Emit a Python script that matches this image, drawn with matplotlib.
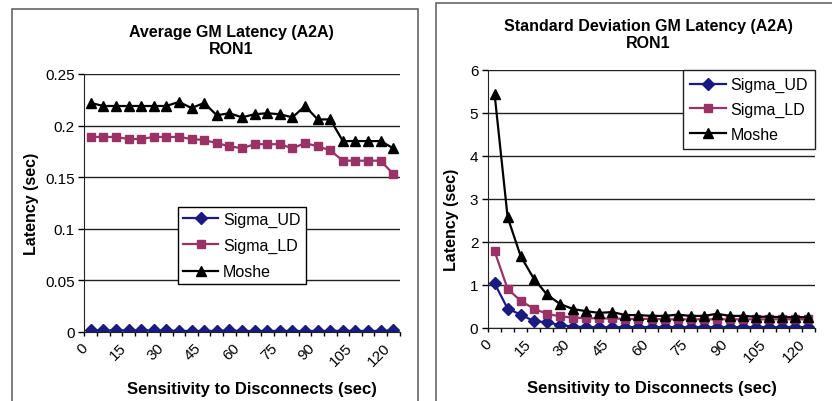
import matplotlib
matplotlib.use("Agg")
import matplotlib.pyplot as plt
from matplotlib.patches import Rectangle
import numpy as np

plt.rcParams['font.family'] = ['Liberation Sans', 'DejaVu Sans']

# x categories (sec)
sensitivity = list(range(0, 125, 5))
xtick_labels = [str(v) for v in sensitivity[::3]]

# average GM latency (sec)
avg_sigma_ud = [0.0015, 0.0015, 0.0015, 0.0015, 0.0015, 0.0015, 0.0015, 0.001, 0.001, 0.001,
                0.001, 0.0015, 0.001, 0.001, 0.001, 0.001, 0.001, 0.001, 0.001, 0.001,
                0.0012, 0.001, 0.001, 0.001, 0.0015]
avg_sigma_ld = [0.189, 0.189, 0.189, 0.187, 0.187, 0.189, 0.189, 0.189, 0.187, 0.186,
                0.183, 0.180, 0.178, 0.182, 0.182, 0.182, 0.178, 0.183, 0.180, 0.176,
                0.166, 0.166, 0.166, 0.166, 0.153]
avg_moshe = [0.222, 0.219, 0.219, 0.219, 0.219, 0.219, 0.219, 0.223, 0.217, 0.222,
             0.210, 0.212, 0.208, 0.211, 0.212, 0.211, 0.208, 0.219, 0.206, 0.206,
             0.185, 0.185, 0.185, 0.185, 0.178]

# standard deviation of GM latency (sec)
sd_sigma_ud = [1.03, 0.44, 0.30, 0.15, 0.12, 0.06, 0.02, 0.01, 0.01, 0.01,
               0.01, 0.01, 0.01, 0.01, 0.01, 0.01, 0.01, 0.01, 0.01, 0.01,
               0.01, 0.01, 0.01, 0.01, 0.01]
sd_sigma_ld = [1.78, 0.90, 0.62, 0.44, 0.32, 0.26, 0.23, 0.22, 0.21, 0.21,
               0.20, 0.20, 0.20, 0.19, 0.19, 0.19, 0.19, 0.19, 0.19, 0.19,
               0.19, 0.19, 0.19, 0.19, 0.19]
sd_moshe = [5.45, 2.57, 1.66, 1.14, 0.77, 0.55, 0.43, 0.38, 0.34, 0.36,
            0.29, 0.29, 0.27, 0.27, 0.30, 0.27, 0.27, 0.32, 0.27, 0.27,
            0.25, 0.25, 0.24, 0.24, 0.24]

W, H = 832, 402
fig = plt.figure(figsize=(W / 100, H / 100), dpi=100)


def px_box(x0, y0, x1, y1):
    """Pixel box (top-left origin) to figure fraction [l, b, w, h]."""
    return [x0 / W, 1 - y1 / H, (x1 - x0) / W, (y1 - y0) / H]


def draw_panel(ax, ud, ld, moshe, yticks, ylabels):
    x = np.arange(len(sensitivity))
    ax.plot(x, ud, color='#1a1a80', marker='D', markersize=6.5, lw=1.6, label='Sigma_UD')
    ax.plot(x, ld, color='#993366', marker='s', markersize=6, lw=1.6, label='Sigma_LD')
    ax.plot(x, moshe, color='black', marker='^', markersize=6.5, lw=1.6, label='Moshe')

    ax.set_xlim(-0.5, len(sensitivity) - 0.5)
    ax.set_ylim(yticks[0], yticks[-1])
    ax.set_yticks(yticks)
    ax.set_yticklabels(ylabels)
    ax.set_xticks(x[::3])
    ax.set_xticklabels(xtick_labels, rotation=45, ha='right', va='top')
    ax.set_xticks(np.arange(-0.5, len(sensitivity), 1), minor=True)
    ax.tick_params(axis='x', which='major', length=0, pad=6, labelsize=11)
    ax.tick_params(axis='x', which='minor', length=3, width=1, direction='out')
    ax.tick_params(axis='y', length=4, width=1, direction='out', labelsize=11, pad=3)

    ax.grid(axis='y', color='#222222', lw=1)
    ax.set_axisbelow(True)
    for s in ['top', 'right']:
        ax.spines[s].set_visible(False)
    ax.spines['left'].set_color('#222222')
    ax.spines['bottom'].set_color('#222222')
    ax.set_xlabel('Sensitivity to Disconnects (sec)', fontsize=12, fontweight='bold')
    ax.set_ylabel('Latency (sec)', fontsize=11.5, fontweight='bold')


# outer chart frames
for x0, y0, x1 in [(12, 10, 418), (436, 4, 840)]:
    l, b, w, h = px_box(x0, y0, x1, H + 5)
    fig.patches.append(Rectangle((l, b), w, h, transform=fig.transFigure,
                                 fill=False, edgecolor='#666666', lw=1.2))

# left: average latency
ax1 = fig.add_axes(px_box(84.4, 75, 399.6, 333))
draw_panel(ax1, avg_sigma_ud, avg_sigma_ld, avg_moshe,
           [0, 0.05, 0.1, 0.15, 0.2, 0.25], ['0', '0.05', '0.1', '0.15', '0.2', '0.25'])
ax1.yaxis.set_label_coords(-0.145, 0.5)
ax1.xaxis.set_label_coords(0.53, -0.19)
leg1 = ax1.legend(loc='center', bbox_to_anchor=(0.50, 0.335), fontsize=11.5, frameon=True,
                  fancybox=False, edgecolor='black', framealpha=1, borderpad=0.3,
                  handlelength=2.2, handletextpad=0.3, labelspacing=0.7)
leg1.get_frame().set_linewidth(1)
fig.text(231 / W, 1 - 33 / H, 'Average GM Latency (A2A)', ha='center', va='center',
         fontsize=11.5, fontweight='bold')
fig.text(231 / W, 1 - 50 / H, 'RON1', ha='center', va='center', fontsize=11.5, fontweight='bold')

# right: standard deviation
ax2 = fig.add_axes(px_box(488, 71, 815, 328.5))
draw_panel(ax2, sd_sigma_ud, sd_sigma_ld, sd_moshe,
           [0, 1, 2, 3, 4, 5, 6], ['0', '1', '2', '3', '4', '5', '6'])
ax2.yaxis.set_label_coords(-0.09, 0.42)
ax2.xaxis.set_label_coords(0.50, -0.205)
leg2 = ax2.legend(loc='upper right', bbox_to_anchor=(1.0, 1.0), borderaxespad=0, fontsize=11.5,
                  frameon=True, fancybox=False, edgecolor='#222222', framealpha=1,
                  borderpad=0.45, handlelength=2.2, handletextpad=0.3, labelspacing=0.6)
leg2.get_frame().set_linewidth(1)
fig.text(648 / W, 1 - 26 / H, 'Standard Deviation GM Latency (A2A)', ha='center', va='center',
         fontsize=11.5, fontweight='bold')
fig.text(648 / W, 1 - 43 / H, 'RON1', ha='center', va='center', fontsize=11.5, fontweight='bold')

fig.savefig('out.png', dpi=100)
